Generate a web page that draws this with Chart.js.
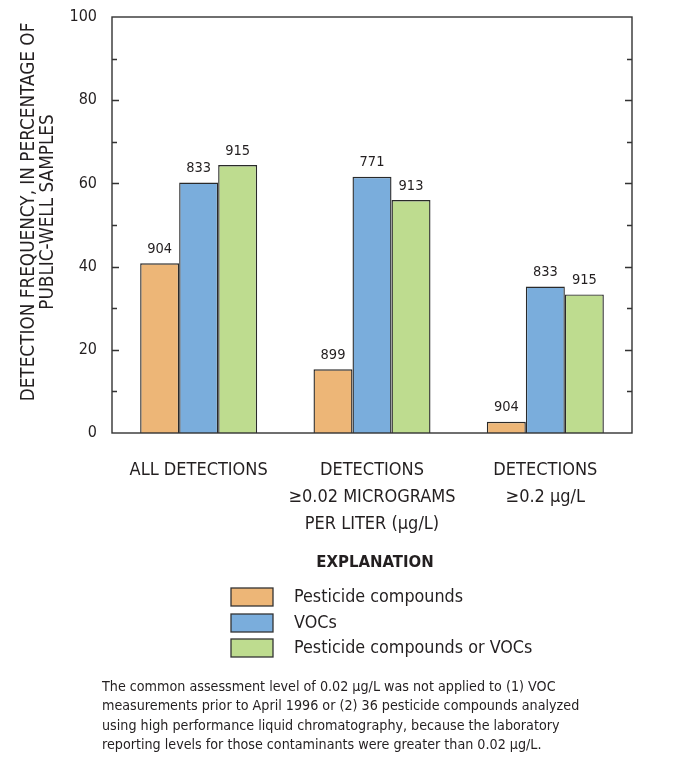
<!DOCTYPE html>
<html><head><meta charset="utf-8">
<script src="https://cdn.jsdelivr.net/npm/chart.js@4/dist/chart.umd.min.js"></script>
<style>html,body{margin:0;padding:0;background:#fff}#wrap{width:681px;height:769px;position:relative}</style>
</head><body><div id="wrap"><canvas id="c" width="681" height="769"></canvas></div>
<script>
const categories = [["ALL DETECTIONS"], ["DETECTIONS", "\u22650.02 MICROGRAMS", "PER LITER (\u00b5g/L)"], ["DETECTIONS", "\u22650.2 \u00b5g/L"]];
const seriesNames = ["Pesticide compounds", "VOCs", "Pesticide compounds or VOCs"];
const pesticide = [40.8, 15.3, 2.7];
const vocs = [60.2, 61.6, 35.2];
const either = [64.4, 56.0, 33.3];
const pesticideN = ["904", "899", "904"];
const vocsN = ["833", "771", "833"];
const eitherN = ["915", "913", "915"];
const yTicks = [0, 20, 40, 60, 80, 100];
const footnote = [
 "The common assessment level of 0.02 \u00b5g/L was not applied to (1) VOC",
 "measurements prior to April 1996 or (2) 36 pesticide compounds analyzed",
 "using high performance liquid chromatography, because the laboratory",
 "reporting levels for those contaminants were greater than 0.02 \u00b5g/L."
];

const FONT = '"Liberation Sans Narrow", "Arial Narrow", "DejaVu Sans Condensed", sans-serif';
const INK = '#231f20';
const colors = ['#EDB677', '#7AADDC', '#BEDC8F'];

const framePlugin = {
  id: 'frame',
  afterDraw(chart) {
    const ctx = chart.ctx, a = chart.chartArea, y = chart.scales.y;
    ctx.save();
    ctx.strokeStyle = '#333';
    ctx.lineWidth = 1.4;
    ctx.strokeRect(a.left, a.top, a.right - a.left, a.bottom - a.top);
    for (let v = 10; v < 100; v += 10) {
      const py = Math.round(y.getPixelForValue(v)) + 0.5;
      const len = (v % 20 === 0) ? 7 : 5;
      ctx.beginPath();
      ctx.moveTo(a.left, py); ctx.lineTo(a.left + len, py);
      ctx.moveTo(a.right, py); ctx.lineTo(a.right - len, py);
      ctx.stroke();
    }
    const Ns = [pesticideN, vocsN, eitherN];
    ctx.fillStyle = INK;
    ctx.font = '14.5px ' + FONT;
    ctx.textAlign = 'center';
    ctx.textBaseline = 'bottom';
    chart.data.datasets.forEach((ds, di) => {
      chart.getDatasetMeta(di).data.forEach((bar, i) => {
        ctx.fillText(Ns[di][i], bar.x, bar.y - 7);
      });
    });
    ctx.save();
    ctx.translate(39, (a.top + a.bottom) / 2 - 13);
    ctx.rotate(-Math.PI / 2);
    ctx.font = '18.8px ' + FONT;
    ctx.textBaseline = 'middle';
    ctx.fillText('DETECTION FREQUENCY, IN PERCENTAGE OF', 0, -10);
    ctx.fillText('PUBLIC-WELL SAMPLES', 0, 9.5);
    ctx.restore();
    ctx.font = 'bold 16.6px ' + FONT;
    ctx.textBaseline = 'middle';
    ctx.textAlign = 'center';
    ctx.fillText('EXPLANATION', 375, 563);
    ctx.font = '17.8px ' + FONT;
    ctx.textAlign = 'left';
    const rows = [597, 623, 648];
    chart.data.datasets.forEach((ds, di) => {
      ctx.fillStyle = ds.backgroundColor;
      ctx.fillRect(231, rows[di] - 9, 42, 18);
      ctx.strokeStyle = '#333';
      ctx.lineWidth = 1.3;
      ctx.strokeRect(231, rows[di] - 9, 42, 18);
      ctx.fillStyle = INK;
      ctx.fillText(ds.label, 294, rows[di]);
    });
    ctx.font = '14.2px ' + FONT;
    footnote.forEach((t, i) => ctx.fillText(t, 102, 687 + i * 19.5));
    ctx.restore();
  }
};

new Chart(document.getElementById('c'), {
  type: 'bar',
  data: {
    labels: categories,
    datasets: [
      { label: seriesNames[0], data: pesticide, backgroundColor: colors[0] },
      { label: seriesNames[1], data: vocs, backgroundColor: colors[1] },
      { label: seriesNames[2], data: either, backgroundColor: colors[2] }
    ].map(d => Object.assign(d, { borderColor: '#2a2a2a', borderWidth: 1.4, categoryPercentage: 0.675, barPercentage: 1 }))
  },
  options: {
    responsive: false,
    animation: false,
    layout: { padding: { top: 17, right: 49, left: 0, bottom: 0 } },
    plugins: { legend: { display: false }, tooltip: { enabled: false } },
    scales: {
      x: {
        grid: { display: false, drawTicks: false },
        border: { display: false },
        ticks: { color: INK, font: { family: FONT, size: 18, lineHeight: 1.5 }, padding: 24, maxRotation: 0, autoSkip: false },
        afterFit(s) { s.height = 769 - 433; s.paddingLeft = 0; s.paddingRight = 0; }
      },
      y: {
        min: 0, max: 100,
        afterBuildTicks(s) { s.ticks = yTicks.map(v => ({ value: v })); },
        grid: { display: false, drawTicks: false },
        border: { display: false },
        ticks: { color: INK, font: { family: FONT, size: 16 }, padding: 15 },
        afterFit(s) { s.width = 112; s.paddingTop = 0; s.paddingBottom = 0; }
      }
    }
  },
  plugins: [framePlugin]
});
</script></body></html>
